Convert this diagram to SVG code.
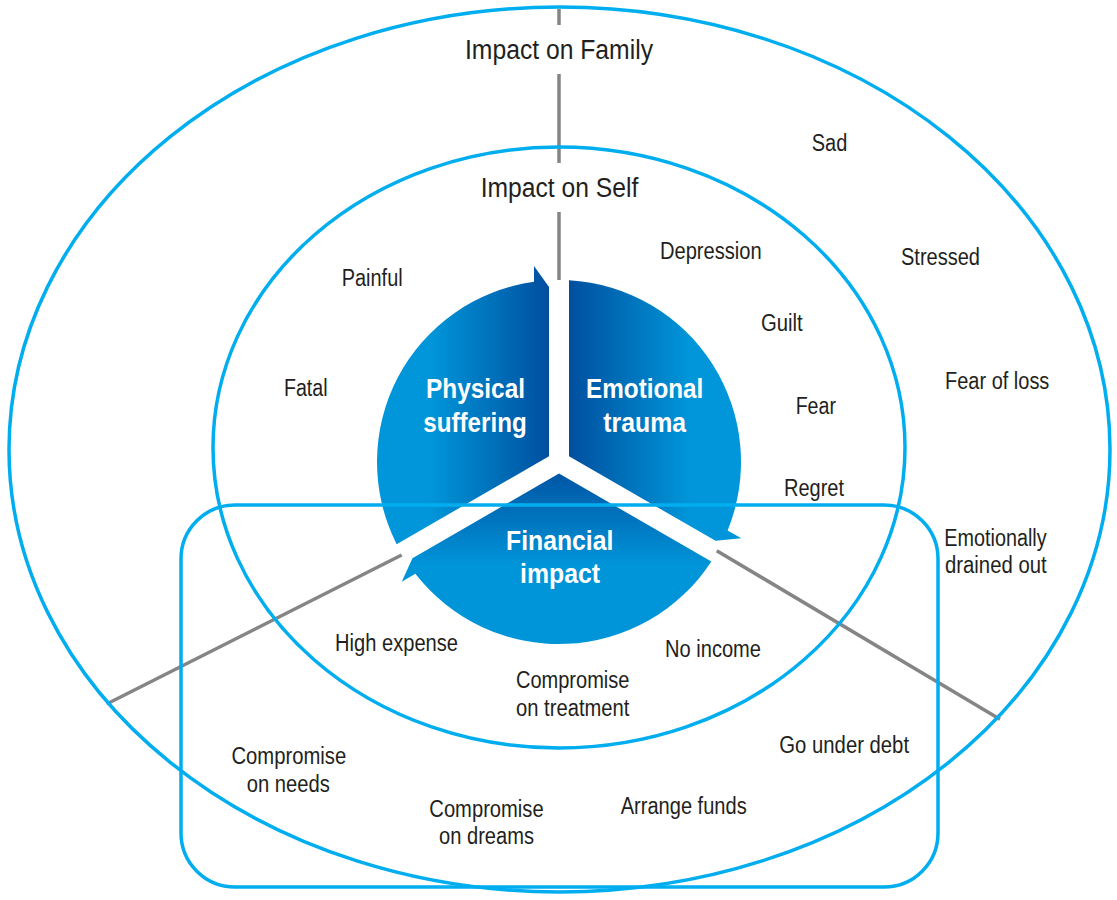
<svg xmlns="http://www.w3.org/2000/svg" width="1117" height="900" viewBox="0 0 1117 900">
  <defs>
    <linearGradient id="gPhys" gradientUnits="userSpaceOnUse" x1="549" y1="0" x2="430" y2="0">
      <stop offset="0" stop-color="#004f9f"/>
      <stop offset="1" stop-color="#0096d9"/>
    </linearGradient>
    <linearGradient id="gEmo" gradientUnits="userSpaceOnUse" x1="569" y1="0" x2="690" y2="0">
      <stop offset="0" stop-color="#004f9f"/>
      <stop offset="1" stop-color="#0096d9"/>
    </linearGradient>
    <linearGradient id="gFin" gradientUnits="userSpaceOnUse" x1="0" y1="474" x2="0" y2="565">
      <stop offset="0" stop-color="#0056a5"/>
      <stop offset="1" stop-color="#0094d8"/>
    </linearGradient>
  </defs>
  <style>
    .ring { fill: none; stroke: #00aeef; stroke-width: 3.5; }
    .conn { stroke: #858585; stroke-width: 3.5; fill: none; }
    .lbl { font-family: "Liberation Sans", Arial, sans-serif; font-size: 23px; fill: #231f20; text-anchor: middle; }
    .hdr { font-family: "Liberation Sans", Arial, sans-serif; font-size: 27px; fill: #231f20; text-anchor: middle; }
    .seg { font-family: "Liberation Sans", Arial, sans-serif; font-size: 28px; font-weight: bold; fill: #ffffff; text-anchor: middle; }
  </style>
  <rect width="1117" height="900" fill="#ffffff"/>

  <g id="connectors">
    <line class="conn" x1="559" y1="9" x2="559" y2="25"/>
    <line class="conn" x1="559" y1="74" x2="559" y2="163"/>
    <line class="conn" x1="559" y1="212" x2="559" y2="280"/>
    <line class="conn" x1="401.7" y1="555" x2="106.7" y2="704"/>
    <line class="conn" x1="716.7" y1="550.7" x2="1000" y2="719.3"/>
  </g>

  <g id="physical-suffering">
    <path fill="url(#gPhys)" d="M549,456.23 L549,287 L534,266 L534,281.72 A182,182 0 0,0 396.63,544.2 Z"/>
    <text class="seg" x="475.5" y="398.3" textLength="99" lengthAdjust="spacingAndGlyphs">Physical</text>
    <text class="seg" x="475" y="431.7" textLength="103.3" lengthAdjust="spacingAndGlyphs">suffering</text>
  </g>
  <g id="emotional-trauma">
    <path fill="url(#gEmo)" d="M569,456.23 L715.55,540.84 L741.24,538.35 L727.63,530.49 A182,182 0 0,0 569,280.28 Z"/>
    <text class="seg" x="644.7" y="398.3" textLength="117.3" lengthAdjust="spacingAndGlyphs">Emotional</text>
    <text class="seg" x="644.7" y="431.7" textLength="82.7" lengthAdjust="spacingAndGlyphs">trauma</text>
  </g>
  <g id="financial-impact">
    <path fill="url(#gFin)" d="M559,473.55 L412.45,558.16 L401.76,581.65 L415.37,573.79 A182,182 0 0,0 711.37,561.52 Z"/>
    <text class="seg" x="559.7" y="550" textLength="107.3" lengthAdjust="spacingAndGlyphs">Financial</text>
    <text class="seg" x="560" y="583.3" textLength="80" lengthAdjust="spacingAndGlyphs">impact</text>
  </g>

  <g id="impact-on-family">
    <ellipse class="ring" cx="559.5" cy="449.5" rx="550.5" ry="442.5"/>
    <text class="hdr" x="559" y="59" textLength="188" lengthAdjust="spacingAndGlyphs">Impact on Family</text>
    <text class="lbl" x="829.5" y="151" textLength="35.6" lengthAdjust="spacingAndGlyphs">Sad</text>
    <text class="lbl" x="940.5" y="265" textLength="79" lengthAdjust="spacingAndGlyphs">Stressed</text>
    <text class="lbl" x="997.2" y="389" textLength="104.3" lengthAdjust="spacingAndGlyphs">Fear of loss</text>
    <text class="lbl" x="995.5" y="546" textLength="102.3" lengthAdjust="spacingAndGlyphs">Emotionally</text>
    <text class="lbl" x="995.8" y="573" textLength="101.7" lengthAdjust="spacingAndGlyphs">drained out</text>
    <text class="lbl" x="844.2" y="753" textLength="129.7" lengthAdjust="spacingAndGlyphs">Go under debt</text>
    <text class="lbl" x="288.8" y="764" textLength="114.8" lengthAdjust="spacingAndGlyphs">Compromise</text>
    <text class="lbl" x="288.3" y="792" textLength="83.2" lengthAdjust="spacingAndGlyphs">on needs</text>
    <text class="lbl" x="486.5" y="817" textLength="114.3" lengthAdjust="spacingAndGlyphs">Compromise</text>
    <text class="lbl" x="486.5" y="844" textLength="95" lengthAdjust="spacingAndGlyphs">on dreams</text>
    <text class="lbl" x="683.7" y="814" textLength="126" lengthAdjust="spacingAndGlyphs">Arrange funds</text>
  </g>

  <g id="impact-on-self">
    <ellipse class="ring" cx="559" cy="447.5" rx="346" ry="300.5"/>
    <text class="hdr" x="559.5" y="197" textLength="157.6" lengthAdjust="spacingAndGlyphs">Impact on Self</text>
    <text class="lbl" x="710.8" y="259" textLength="101.7" lengthAdjust="spacingAndGlyphs">Depression</text>
    <text class="lbl" x="372.2" y="286" textLength="61" lengthAdjust="spacingAndGlyphs">Painful</text>
    <text class="lbl" x="781.8" y="331" textLength="41.7" lengthAdjust="spacingAndGlyphs">Guilt</text>
    <text class="lbl" x="305.8" y="396" textLength="43.7" lengthAdjust="spacingAndGlyphs">Fatal</text>
    <text class="lbl" x="815.8" y="414" textLength="40.3" lengthAdjust="spacingAndGlyphs">Fear</text>
    <text class="lbl" x="814" y="496" textLength="60" lengthAdjust="spacingAndGlyphs">Regret</text>
    <text class="lbl" x="396.5" y="651" textLength="123" lengthAdjust="spacingAndGlyphs">High expense</text>
    <text class="lbl" x="713" y="657" textLength="96" lengthAdjust="spacingAndGlyphs">No income</text>
    <text class="lbl" x="572.7" y="688" textLength="113.4" lengthAdjust="spacingAndGlyphs">Compromise</text>
    <text class="lbl" x="572.7" y="716" textLength="113.4" lengthAdjust="spacingAndGlyphs">on treatment</text>
  </g>

  <g id="financial-area">
    <rect class="ring" x="181" y="505" width="757" height="382" rx="54" ry="54"/>
  </g>
</svg>
